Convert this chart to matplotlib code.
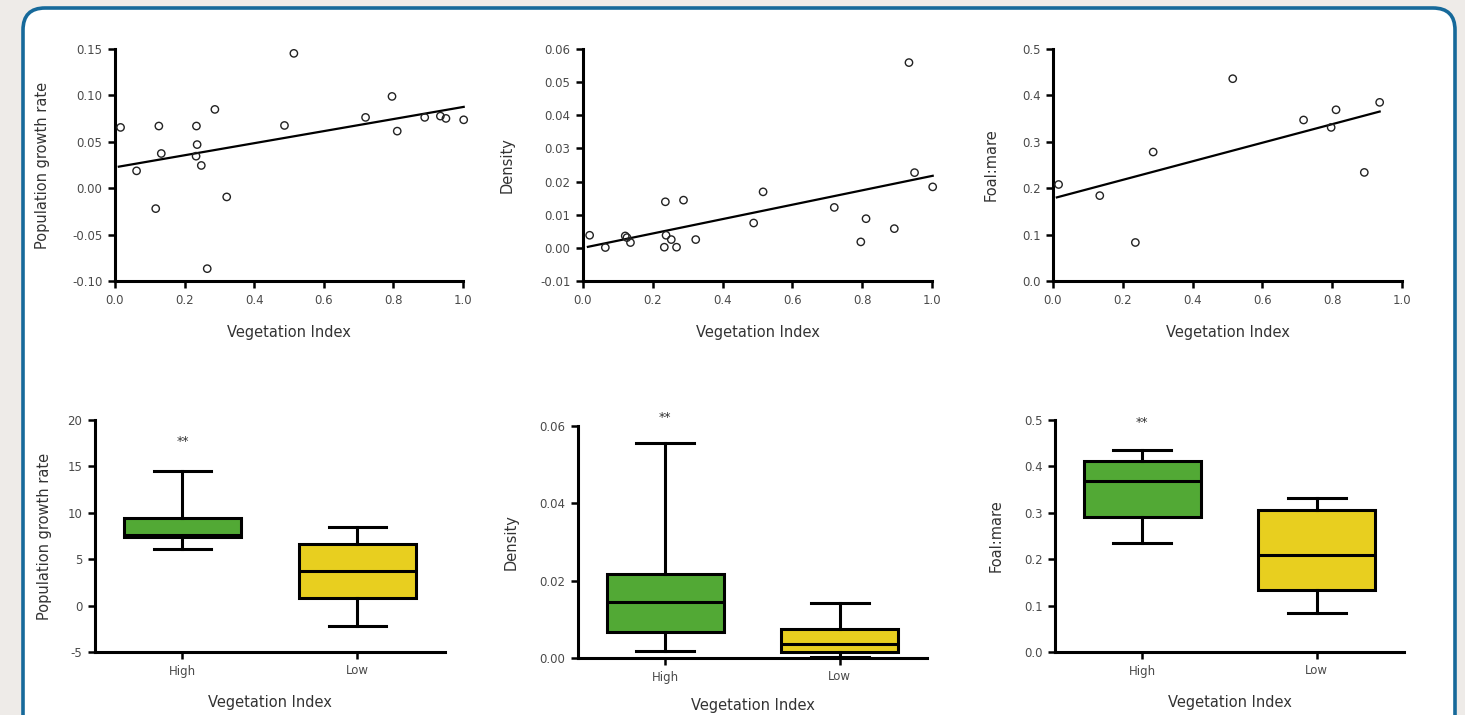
import numpy as np
import matplotlib
matplotlib.use("Agg")
import matplotlib.pyplot as plt
from matplotlib.patches import FancyBboxPatch
from matplotlib.ticker import FormatStrFormatter, MultipleLocator

plt.rcParams['font.family'] = ['DejaVu Sans']
plt.rcParams['axes.unicode_minus'] = False

# ---- data ----
veg_index = [0.016, 0.062, 0.117, 0.126, 0.133, 0.234, 0.236, 0.233, 0.248, 0.265, 0.287,
             0.321, 0.487, 0.514, 0.720, 0.796, 0.811, 0.890, 0.935, 0.951, 1.002]
growth_rate = [0.0655, 0.0187, -0.022, 0.067, 0.0374, 0.067, 0.047, 0.0345, 0.0245, -0.0867, 0.0849,
               -0.0094, 0.0676, 0.1453, 0.0763, 0.0989, 0.0615, 0.0763, 0.0777, 0.0752, 0.0737]
veg_index_d = [0.019, 0.064, 0.121, 0.126, 0.136, 0.236, 0.238, 0.233, 0.253, 0.268, 0.288,
               0.323, 0.489, 0.516, 0.720, 0.796, 0.811, 0.892, 0.934, 0.950, 1.002]
density = [0.0038, 0.0001, 0.0036, 0.0031, 0.0016, 0.0139, 0.0038, 0.0002, 0.0025, 0.0002, 0.0144,
           0.0025, 0.0075, 0.0169, 0.0122, 0.0018, 0.0088, 0.0058, 0.0559, 0.0227, 0.0184]
veg_index_f = [0.016, 0.134, 0.236, 0.287, 0.515, 0.718, 0.797, 0.811, 0.892, 0.936]
foal_mare = [0.208, 0.184, 0.083, 0.278, 0.436, 0.347, 0.331, 0.369, 0.234, 0.385]

# regression lines (intercept, slope) as drawn
fit_growth = (0.0225, 0.065)
fit_density = (0.0000, 0.0217)
fit_foal = (0.178, 0.200)

groups = ['High', 'Low']
# whislo, q1, med, q3, whishi
box_growth = [(6.15, 7.34, 7.6, 9.39, 14.5), (-2.23, 0.86, 3.74, 6.69, 8.49)]
box_density = [(0.0018, 0.0067, 0.0145, 0.0216, 0.0557), (0.0002, 0.0016, 0.0035, 0.0076, 0.0143)]
box_foal = [(0.235, 0.292, 0.369, 0.412, 0.435), (0.084, 0.134, 0.208, 0.306, 0.331)]
stars_y = [17.7, 0.0623, 0.494]

box_colors = ['#52a935', '#e8cf1f']

W, H = 1465, 715
fig = plt.figure(figsize=(W / 100, H / 100), dpi=100)
fig.patch.set_facecolor('#eeebe8')
frame = FancyBboxPatch((23, -30), 1432, 737, boxstyle="round,pad=0,rounding_size=22",
                       transform=None, facecolor='white', edgecolor='#16699a', linewidth=2.6, zorder=-5)
fig.patches.append(frame)

def make_axes(l, r, t, b):
    ax = fig.add_axes([l / W, (H - b) / H, (r - l) / W, (b - t) / H])
    ax.set_zorder(2)
    return ax

def style(ax, ylab, ylab_px, l, r, xlab_py, t, b):
    ax.set_facecolor('none')
    for s in ['top', 'right']:
        ax.spines[s].set_visible(False)
    for s in ['left', 'bottom']:
        ax.spines[s].set_linewidth(2.2)
    ax.tick_params(direction='out', length=5, width=1.8, labelsize=8.5, labelcolor='#4a4a4a', pad=4)
    ax.set_ylabel(ylab, fontsize=10.5, color='#333333')
    ax.set_xlabel('Vegetation Index', fontsize=10.5, color='#333333')
    # label positions given as text centres in pixels
    ax.yaxis.set_label_coords((ylab_px + 7 - l) / (r - l), 0.5)
    ax.xaxis.set_label_coords(0.5, -(xlab_py - 7 - b) / (b - t))

# ---- top row: scatter + regression ----
scatter_sets = [
    (veg_index, growth_rate, fit_growth, 'Population growth rate', (-0.10, 0.15), 0.05, '%.2f', (115, 463), 43),
    (veg_index_d, density, fit_density, 'Density', (-0.01, 0.06), 0.01, '%.2f', (583, 932), 508),
    (veg_index_f, foal_mare, fit_foal, 'Foal:mare', (0.0, 0.5), 0.1, '%.1f', (1053, 1402), 992),
]
for xs, ys, fit, ylab, ylim, step, fmt, (l, r), ylab_px in scatter_sets:
    ax = make_axes(l, r, 49, 281)
    ax.scatter(xs, ys, s=28, facecolors='none', edgecolors='#222222', linewidths=1.0, clip_on=False, zorder=3)
    xline = np.array([min(xs) - 0.005, max(xs)])
    ax.plot(xline, fit[0] + fit[1] * xline, color='black', lw=1.6, clip_on=False)
    ax.set_xlim(0, 1)
    ax.set_ylim(*ylim)
    ax.xaxis.set_major_locator(MultipleLocator(0.2))
    ax.yaxis.set_major_locator(MultipleLocator(step))
    ax.xaxis.set_major_formatter(FormatStrFormatter('%.1f'))
    ax.yaxis.set_major_formatter(FormatStrFormatter(fmt))
    style(ax, ylab, ylab_px, l, r, 332, 49, 281)

# ---- bottom row: box plots ----
box_sets = [
    (box_growth, 'Population growth rate', (-5, 20), 5, '%d', (95, 445, 420, 652), 45, 702),
    (box_density, 'Density', (0.0, 0.06), 0.02, '%.2f', (578, 927, 426, 658), 512, 705),
    (box_foal, 'Foal:mare', (0.0, 0.5), 0.1, '%.1f', (1055, 1404, 420, 652), 997, 702),
]
for i, (stats_vals, ylab, ylim, step, fmt, (l, r, t, b), ylab_px, xlab_py) in enumerate(box_sets):
    ax = make_axes(l, r, t, b)
    stats = []
    for name, (lo, q1, med, q3, hi) in zip(groups, stats_vals):
        stats.append(dict(label=name, whislo=lo, q1=q1, med=med, q3=q3, whishi=hi, fliers=[]))
    bp = ax.bxp(stats, positions=[0, 1], widths=0.67, capwidths=0.33, patch_artist=True, showfliers=False,
                boxprops=dict(linewidth=2.2, edgecolor='black'),
                medianprops=dict(color='black', linewidth=2.2),
                whiskerprops=dict(color='black', linewidth=2.2),
                capprops=dict(color='black', linewidth=2.2))
    for patch, c in zip(bp['boxes'], box_colors):
        patch.set_facecolor(c)
    ax.text(0, stars_y[i], '**', ha='center', va='center', fontsize=9, color='#333333', clip_on=False)
    ax.set_xlim(-0.5, 1.5)
    ax.set_ylim(*ylim)
    ax.yaxis.set_major_locator(MultipleLocator(step))
    ax.yaxis.set_major_formatter(FormatStrFormatter(fmt))
    style(ax, ylab, ylab_px, l, r, xlab_py, t, b)

fig.savefig('out.png', dpi=100, facecolor=fig.get_facecolor())
